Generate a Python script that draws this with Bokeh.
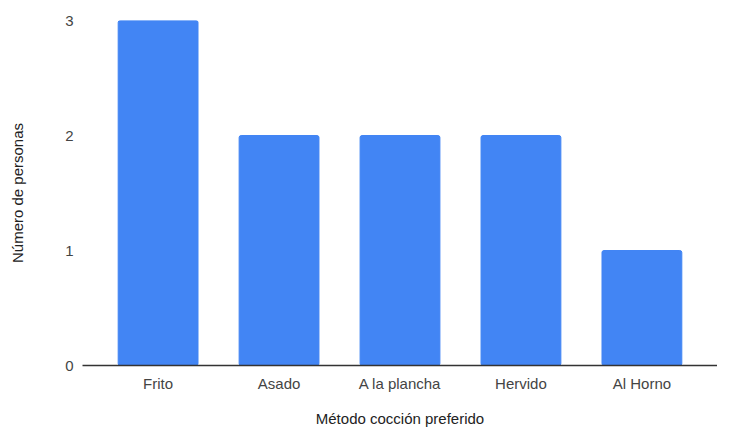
from bokeh.plotting import figure
from bokeh.models import ColumnDataSource, FactorRange, Range1d, FixedTicker
from bokeh.embed import file_html
from bokeh.resources import INLINE

categories = ["Frito", "Asado", "A la plancha", "Hervido", "Al Horno"]
personas = [3, 2, 2, 2, 1]
y_ticks = [0, 1, 2, 3]

source = ColumnDataSource(data=dict(cat=categories, val=personas))

p = figure(
    x_range=FactorRange(*categories, range_padding=0.05),
    y_range=Range1d(0, 3),
    width=717, height=429,
    output_backend="svg", toolbar_location=None,
    min_border_left=82, min_border_right=0, min_border_top=20, min_border_bottom=62,
)
p.vbar(x="cat", top="val", width=0.66, source=source, color="#4285F4", border_radius=2)

p.outline_line_color = None
p.xgrid.grid_line_color = None
p.ygrid.grid_line_color = None
p.background_fill_color = "white"
p.border_fill_color = "white"

font = "Liberation Sans"
p.yaxis.ticker = FixedTicker(ticks=y_ticks)
p.yaxis.axis_line_color = None
p.yaxis.major_tick_line_color = None
p.yaxis.minor_tick_line_color = None
p.yaxis.major_label_standoff = 3
p.yaxis.axis_label = "Número de personas"
p.yaxis.axis_label_standoff = 36

p.xaxis.axis_line_color = "#333333"
p.xaxis.axis_line_width = 1.5
p.xaxis.major_tick_line_color = None
p.xaxis.minor_tick_line_color = None
p.xaxis.major_label_standoff = 3
p.xaxis.axis_label = "Método cocción preferido"
p.xaxis.axis_label_standoff = 15

for ax in (p.xaxis, p.yaxis):
    ax.major_label_text_font = font
    ax.major_label_text_font_size = "15px"
    ax.major_label_text_color = "#444444"
    ax.axis_label_text_font = font
    ax.axis_label_text_font_size = "15px"
    ax.axis_label_text_font_style = "normal"
    ax.axis_label_text_color = "#222222"

open("out.html", "w").write(file_html(p, INLINE))
